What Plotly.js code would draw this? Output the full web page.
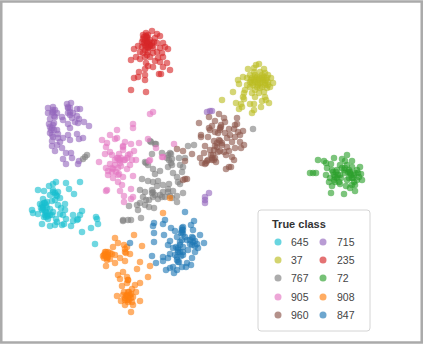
<!DOCTYPE html>
<html><head><meta charset="utf-8">
<script src="https://cdn.plot.ly/plotly-3.0.1.min.js"></script>
<style>html,body{margin:0;padding:0;background:#fff}#c{width:423px;height:344px}</style>
</head><body><div id="c"></div>
<script>
const classNames = ["645","715","37","235","767","72","905","908","960","847"];
const classColors = ["#17becf","#9467bd","#bcbd22","#d62728","#7f7f7f","#2ca02c","#e377c2","#ff7f0e","#8c564b","#1f77b4"];
const pts645 = [80,182,56,182,66,183,53,184,49,186,69,189,38,190,44,191,53,190,58,192,74,194,50,195,57,196,60,198,43,199,40,204,47,202,52,201,65,204,58,205,43,207,32,210,42,210,33,213,50,209,61,208,65,210,82,211,38,214,53,212,60,214,45,215,80,215,73,215,63,215,48,219,56,219,78,219,77,220,73,221,96,217,97,219,66,219,57,222,62,225,42,224,50,226,55,225,64,224,71,226,98,224,91,228,82,232,95,244,42,205,45,203,46,212,50,215,55,200,47,208,44,217,44,203,46,205,43,209,41,208,45,211,47,214,48,216,53,192,55,193,56,195,52,215,46,217];
const pts715 = [71,103,67,104,48,108,53,107,68,108,80,109,77,109,48,113,53,112,57,113,70,112,73,113,62,117,55,117,50,119,77,116,79,119,63,120,72,118,75,122,78,123,84,122,89,126,49,124,54,123,68,124,52,128,57,130,70,128,50,133,58,134,68,135,77,134,53,137,83,138,79,139,52,141,63,138,60,142,70,140,57,145,52,146,62,148,55,151,66,153,71,153,63,159,72,158,66,164,78,164,79,161,53,110,55,110,68,107,70,108,50,127,53,125,58,138,207,112,210,111,212,111,209,193,205,197,205,200,205,203,52,113,54,116,68,113,70,115,51,130,52,135,54,130];
const pts37 = [259,64,256,65,254,68,248,69,264,69,254,72,260,72,265,73,243,77,247,78,238,80,252,78,257,77,262,78,267,78,271,78,273,83,239,84,250,82,255,82,260,83,265,83,270,87,267,88,262,87,257,87,250,87,245,90,233,92,244,93,252,93,259,93,264,92,255,97,243,97,244,99,265,97,262,101,266,100,222,100,236,103,241,104,269,103,250,104,254,104,261,107,242,107,239,109,254,110,252,113,255,75,258,80,262,75,250,75,253,85,258,85,263,80,268,82,247,85,255,90,260,88,265,85,251,80,254,80,258,83,262,82,266,80,268,85,252,83,256,78,260,78,264,77,268,75];
const pts235 = [152,31,146,33,143,35,157,34,160,36,147,37,143,39,150,40,154,42,147,42,157,43,163,43,138,46,134,49,142,47,148,47,145,50,153,48,160,48,168,49,165,47,140,52,148,52,157,52,162,53,136,57,131,60,140,59,145,57,150,57,158,58,155,61,163,57,160,62,146,63,148,66,153,67,167,63,163,67,170,70,139,72,145,69,138,77,134,78,145,75,145,80,159,74,161,74,131,90,146,92,147,43,150,45,152,43,144,43,148,35,143,53,147,55,153,53,142,42,155,38,148,48,145,45,146,36,147,38,145,40,149,42,150,46,148,44,146,47,152,46,144,37];
const pts767 = [150,141,156,144,152,154,170,153,167,158,179,158,145,162,148,165,171,163,168,167,180,165,183,167,153,169,160,171,182,172,173,173,155,174,177,177,142,179,148,181,153,182,158,181,163,185,178,182,169,184,180,184,157,186,140,190,145,192,153,192,163,192,168,189,173,191,183,193,143,197,153,197,158,199,165,197,172,198,177,196,140,203,137,205,145,205,149,207,154,208,177,202,129,206,138,210,141,218,123,221,123,220,128,220,131,220,152,193,162,197,170,196,172,159,253,129,87,155,85,157,83,159,151,142,155,144,162,153,171,154,146,163,194,145,188,146,185,158,152,190,155,195,160,195,168,192,146,200,149,200,169,160,172,165,168,155];
const pts72 = [347,155,334,158,318,160,324,161,326,163,331,164,342,159,345,161,352,161,327,168,360,167,340,165,347,165,352,167,310,173,313,173,316,173,326,175,332,170,337,170,344,170,350,172,357,170,361,174,334,175,340,175,354,175,359,177,362,180,329,182,334,180,339,182,349,178,354,182,357,180,332,186,340,184,346,186,350,188,355,185,331,193,344,194,355,191,335,177,345,173,349,170,352,185,330,178,350,173,337,178,342,168,345,168,348,172,351,175,353,178,336,172,338,175,341,178,335,182,355,173,358,173,347,180,352,178,333,172];
const pts905 = [153,112,150,114,133,124,133,128,117,130,110,135,117,138,115,139,102,140,107,143,125,142,131,144,139,143,148,139,174,144,156,148,106,147,123,147,123,150,134,151,105,154,110,152,119,154,130,154,132,160,136,160,112,155,115,160,120,160,127,158,99,162,110,164,115,165,121,166,130,165,106,168,113,169,127,169,150,160,162,157,108,175,113,178,123,177,133,176,118,182,122,185,107,190,106,191,131,189,120,191,124,196,133,197,131,199,124,202,149,161,163,157,118,158,120,163,125,160,112,168,116,172,108,171,112,172,119,174,117,158,119,160,121,158,124,160,128,155,123,146,118,168,118,175];
const pts908 = [115,238,134,235,118,243,124,245,142,246,113,247,127,247,106,252,112,254,125,252,130,254,103,256,108,257,115,255,120,258,107,260,115,263,125,261,140,262,106,266,150,266,137,269,123,272,118,275,127,277,148,277,120,279,128,280,140,283,122,286,135,285,132,289,128,292,136,292,117,296,123,295,133,297,127,300,121,301,140,301,132,302,125,305,133,305,131,312,127,295,125,298,130,295,129,300,124,292,105,254,108,252,104,258,110,259,131,294,170,198,163,213,126,296,128,297,125,300,128,302,131,298,129,292,106,256,105,252,108,255,104,255,110,253,107,258,125,249,126,253,128,280,127,283];
const pts960 = [219,114,224,118,237,118,215,121,225,122,221,125,235,125,237,124,212,126,220,128,229,129,234,129,243,131,238,132,215,132,225,133,230,135,240,135,235,137,227,138,219,140,214,141,240,142,232,142,244,145,222,143,241,148,235,148,227,147,217,147,229,151,214,150,224,152,220,151,226,155,232,157,215,158,234,160,212,160,231,167,229,167,226,169,209,117,199,123,209,128,201,135,208,137,201,137,205,146,177,149,183,151,192,154,200,158,204,153,202,163,205,164,210,150,208,160,211,155,210,130,185,179,187,179,183,180,185,161,221,127,220,130,218,133,220,141,217,143,215,146,222,145,218,152,213,155,216,162,214,160,207,161,206,163,212,158];
const pts847 = [185,212,194,221,165,220,163,224,154,223,153,226,171,228,183,227,191,225,193,230,154,233,175,231,182,232,164,235,200,235,177,237,192,237,185,237,170,241,154,242,130,243,204,243,180,242,168,245,197,244,192,245,173,248,183,247,198,248,195,252,188,250,178,252,170,254,152,256,163,257,168,258,177,257,183,255,192,258,163,261,156,263,178,262,187,263,191,265,173,267,170,268,166,270,182,267,186,267,177,270,174,273,182,230,183,234,193,242,190,240,178,248,180,252,175,255,182,228,183,230,181,233,182,240,180,245,176,247,178,250,183,252,193,238,195,241,190,244,195,246,181,256,177,260,179,262,187,240];
const classPts = [pts645,pts715,pts37,pts235,pts767,pts72,pts905,pts908,pts960,pts847];

// Legend layout, in the same picture-pixel units as the axes
const keyCols = [278,323];
const labelCols = [290,336];
const keyRows = [242,260,278,297,315];
const col = i => i % 2;
const row = i => Math.floor(i / 2);

const traces = classNames.map((name,i)=>({
  type:"scatter",mode:"markers",name:name,showlegend:false,
  x:classPts[i].filter((_,k)=>k%2===0),
  y:classPts[i].filter((_,k)=>k%2===1),
  marker:{color:classColors[i],size:6.5,opacity:0.62,line:{width:0}},
  hoverinfo:"name"
}));
traces.push({
  type:"scatter",mode:"markers",name:"True class",showlegend:false,hoverinfo:"skip",
  x:classNames.map((_,i)=>keyCols[col(i)]),
  y:classNames.map((_,i)=>keyRows[row(i)]),
  marker:{color:classColors,size:7,opacity:0.65,line:{width:0}}
});
const labelAnn = classNames.map((name,i)=>({
  xref:"x",yref:"y",x:labelCols[col(i)],y:keyRows[row(i)],text:name,showarrow:false,
  xanchor:"left",yanchor:"middle",xshift:-1,font:{size:10.5,color:"#444"}
}));
labelAnn.push({xref:"x",yref:"y",x:270,y:224,text:"<b>True class</b>",showarrow:false,
  xanchor:"left",yanchor:"middle",font:{size:11,color:"#333"}});
const layout = {
  width:423,height:344,margin:{l:0,r:0,t:0,b:0,autoexpand:false},
  paper_bgcolor:"#fff",plot_bgcolor:"#fff",
  font:{family:"Liberation Sans, Arial, sans-serif",size:11,color:"#444"},
  xaxis:{range:[0,423],visible:false,fixedrange:true},
  yaxis:{range:[344,0],visible:false,fixedrange:true},
  showlegend:false,
  annotations:labelAnn,
  shapes:[
    {type:"rect",xref:"paper",yref:"paper",x0:0.003,x1:0.997,y0:0.004,y1:0.996,line:{color:"#aaaaaa",width:2.5},layer:"above"},
    {type:"path",xref:"x",yref:"y",layer:"below",line:{color:"#d4d4d4",width:1},fillcolor:"#ffffff",
     path:"M261,210 L367,210 Q370,210 370,213 L370,328 Q370,331 367,331 L261,331 Q258,331 258,328 L258,213 Q258,210 261,210 Z"}
  ]
};
Plotly.newPlot("c",traces,layout,{displayModeBar:false});
</script></body></html>
